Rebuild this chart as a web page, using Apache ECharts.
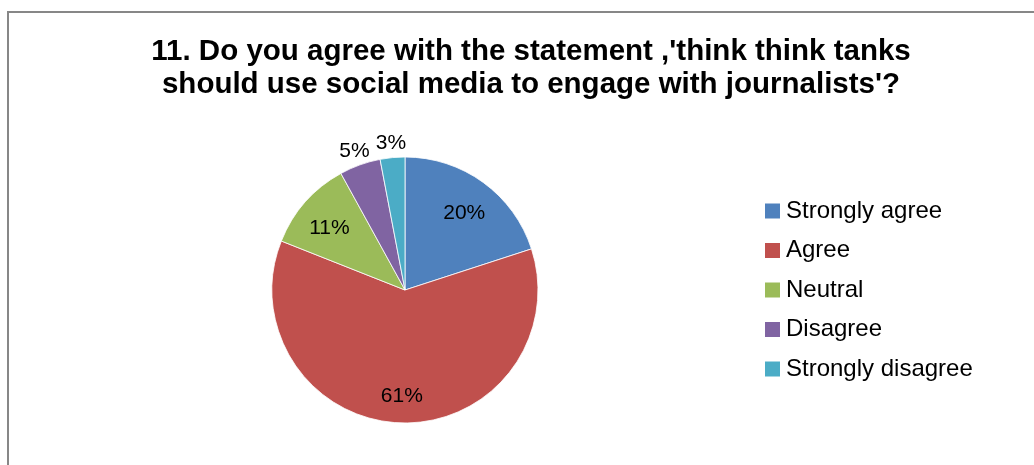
<!DOCTYPE html>
<html>
<head>
<meta charset="utf-8">
<script src="https://cdn.jsdelivr.net/npm/echarts@6/dist/echarts.min.js"></script>
<style>
  html, body { margin: 0; padding: 0; background: #fff; }
  #chart { width: 1034px; height: 465px; }
</style>
</head>
<body>
<div id="chart"></div>
<script>
const titleText = "11. Do you agree with the statement ,'think think tanks\nshould use social media to engage with journalists'?";
const categories = ['Strongly agree', 'Agree', 'Neutral', 'Disagree', 'Strongly disagree'];
const percents = [20, 61, 11, 5, 3];
const colors = ['#4F81BD', '#C0504D', '#9BBB59', '#8064A2', '#4BACC6'];
// slices too thin to carry their label inside
const outsideLabel = [false, false, false, true, true];

const FONT = '"Liberation Sans", Arial, sans-serif';
const center = [405, 290];
const R = 133;

const baseData = categories.map((name, i) => ({ name, value: percents[i] }));

function labelData(showOutside) {
  return categories.map((name, i) => ({
    name,
    value: percents[i],
    label: { show: outsideLabel[i] === showOutside }
  }));
}

// transparent ring whose mid-radius carries the percentage labels
const labelSeries = (radius, showOutside, dy) => ({
  type: 'pie',
  silent: true,
  center,
  radius,
  startAngle: 90,
  clockwise: true,
  animation: false,
  legendHoverLink: false,
  itemStyle: { color: 'rgba(0,0,0,0)', borderWidth: 0 },
  label: {
    position: 'inside',
    formatter: '{c}%',
    color: '#000',
    fontFamily: FONT,
    fontSize: 21,
    offset: [0, dy]
  },
  labelLine: { show: false },
  emphasis: { disabled: true },
  data: labelData(showOutside)
});

const chart = echarts.init(document.getElementById('chart'), null, { renderer: 'canvas' });
chart.setOption({
  animation: false,
  color: colors,
  backgroundColor: '#fff',
  graphic: [{
    type: 'rect',
    shape: { x: 8, y: 12, width: 1040, height: 470 },
    style: { fill: 'none', stroke: '#878787', lineWidth: 2 },
    silent: true,
    z: -1
  }],
  title: {
    text: titleText,
    left: 526,
    top: 30,
    textAlign: 'center',
    textStyle: {
      fontFamily: FONT,
      fontWeight: 'bold',
      fontSize: 29.5,
      lineHeight: 33,
      color: '#000'
    }
  },
  legend: {
    orient: 'vertical',
    left: 758,
    top: 194,
    icon: 'rect',
    itemWidth: 17,
    itemHeight: 17,
    itemGap: 15.5,
    data: categories,
    textStyle: { fontFamily: FONT, fontSize: 24, lineHeight: 24, color: '#000' }
  },
  series: [
    {
      type: 'pie',
      center,
      radius: [0, R],
      startAngle: 90,
      clockwise: true,
      itemStyle: { borderColor: '#fff', borderWidth: 0.8 },
      label: { show: false },
      labelLine: { show: false },
      emphasis: { disabled: true },
      data: baseData
    },
    labelSeries([R * 0.47, R], false, 5),
    labelSeries([R, R * 1.2], true, 2)
  ]
});
</script>
</body>
</html>
